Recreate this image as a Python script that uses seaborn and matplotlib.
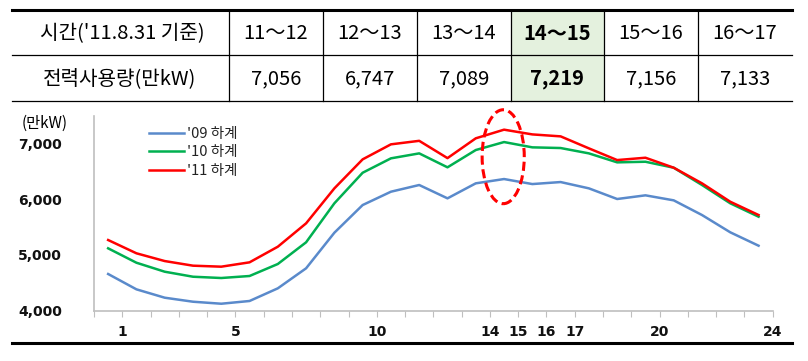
import numpy as np
import pandas as pd
import matplotlib
matplotlib.use('Agg')
import matplotlib.pyplot as plt
from matplotlib.patches import Ellipse, Rectangle
from matplotlib.lines import Line2D
import seaborn as sns

# Hourly power use (만kW)
hours = list(range(1, 25))
use_09 = [4658, 4383, 4233, 4161, 4125, 4174, 4401, 4760, 5398, 5894, 6133, 6253,
          6014, 6283, 6360, 6270, 6306, 6193, 6002, 6068, 5978, 5715, 5405, 5165]
use_10 = [5118, 4860, 4699, 4609, 4586, 4622, 4837, 5226, 5925, 6473, 6731, 6820,
          6570, 6880, 7023, 6928, 6916, 6820, 6659, 6670, 6563, 6253, 5925, 5685]
use_11 = [5267, 5029, 4890, 4807, 4789, 4867, 5147, 5566, 6193, 6713, 6982, 7045,
          6735, 7090, 7245, 7160, 7125, 6910, 6700, 6742, 6563, 6283, 5953, 5715]
series_names = ["'09 하계", "'10 하계", "'11 하계"]
series_colors = ['#5A8ACB', '#00B050', '#FF0000']
x_labels = [1, 5, 10, 14, 15, 16, 17, 20, 24]
y_ticks = [4000, 5000, 6000, 7000]

# Table above the chart
table_head = "시간('11.8.31 기준)"
table_row = "전력사용량(만kW)"
time_slots = ['11～12', '12～13', '13～14', '14～15', '15～16', '16～17']
slot_use = ['7,056', '6,747', '7,089', '7,219', '7,156', '7,133']
peak_slot = '14～15'

W, H = 808, 361
fig = plt.figure(figsize=(W / 100, H / 100), dpi=100)
plt.rcParams['font.family'] = ['Noto Sans CJK KR', 'DejaVu Sans']


def fx(px):
    return px / W


def fy(py):
    return 1 - py / H


# ---- table ----
col_edges = [11.7, 228.7, 322.7, 416.7, 510.7, 604, 698, 791.5]
row_top, row_mid, row_bot = 9.5, 55, 100.5
peak_i = time_slots.index(peak_slot)
fig.patches.append(Rectangle((fx(col_edges[peak_i + 1]), fy(row_bot)),
                             fx(col_edges[peak_i + 2] - col_edges[peak_i + 1]),
                             fy(row_top) - fy(row_bot), transform=fig.transFigure,
                             facecolor='#E4F1DE', edgecolor='none', zorder=0))
fig.add_artist(Line2D([fx(11.7), fx(791.5)], [fy(row_top)] * 2, color='black', lw=2.2))
fig.add_artist(Line2D([fx(11.7), fx(791.5)], [fy(row_mid)] * 2, color='black', lw=0.9))
fig.add_artist(Line2D([fx(11.7), fx(791.5)], [fy(row_bot)] * 2, color='black', lw=0.9))
for xe in col_edges[1:-1]:
    fig.add_artist(Line2D([fx(xe)] * 2, [fy(row_top), fy(row_bot)], color='black', lw=0.9))

ty1, ty2 = (row_top + row_mid) / 2 + 1, (row_mid + row_bot) / 2 + 1
fig.text(fx(122), fy(ty1), table_head, ha='center', va='center', fontsize=14.5)
fig.text(fx(120), fy(ty2), table_row, ha='center', va='center', fontsize=14.5)
for i, (slot, val) in enumerate(zip(time_slots, slot_use)):
    cx = (col_edges[i + 1] + col_edges[i + 2]) / 2
    wt = 'bold' if slot == peak_slot else 'normal'
    fig.text(fx(cx), fy(ty1), slot, ha='center', va='center', fontsize=14.5, fontweight=wt)
    fig.text(fx(cx), fy(ty2), val, ha='center', va='center', fontsize=14.5, fontweight=wt)

# bottom rule under chart
fig.add_artist(Line2D([fx(11.7), fx(791.5)], [fy(342.7)] * 2, color='black', lw=2.2))

# ---- line chart ----
ax = fig.add_axes([fx(94), fy(310.7), fx(772.7 - 94), fy(116) - fy(310.7)])
df = pd.DataFrame({
    'hour': hours * 3,
    'use': use_09 + use_10 + use_11,
    'year': sum([[n] * len(hours) for n in series_names], []),
})
df['pos'] = df['hour'] - 0.5
sns.lineplot(data=df, x='pos', y='use', hue='year', palette=series_colors,
             linewidth=1.8, ax=ax)

ax.set_xlim(0, 24)
ax.set_ylim(4000, 7490)
ax.set_xticks(range(0, 25))
ax.set_xticklabels([str(t) if t in x_labels else '' for t in range(0, 25)],
                   fontweight='bold', fontsize=10, family='DejaVu Sans')
ax.set_yticks(y_ticks)
ax.set_yticklabels([f'{v:,}' for v in y_ticks], fontweight='bold', fontsize=10,
                   family='DejaVu Sans')
ax.tick_params(axis='x', direction='out', length=4, color='#BFBFBF', pad=6,
               labelcolor='#111111')
ax.tick_params(axis='y', length=0, pad=23, labelcolor='#111111')
ax.set_xlabel('')
ax.set_ylabel('')
for s in ['top', 'right']:
    ax.spines[s].set_visible(False)
for s in ['left', 'bottom']:
    ax.spines[s].set_color('#BFBFBF')
    ax.spines[s].set_linewidth(1.2)
ax.patch.set_alpha(0)

leg = ax.legend(loc='upper left', bbox_to_anchor=(fx(136), fy(114)),
                bbox_transform=fig.transFigure, frameon=False, fontsize=10.5,
                handlelength=2.4, handletextpad=0.2, labelspacing=0.3)
for t in leg.get_texts():
    t.set_color('#222222')

fig.text(fx(22), fy(123), '(만kW)', ha='left', va='center', fontsize=11)

# dashed ellipse around the 14~15 peak
ax.add_patch(Ellipse((14.47, 6760), 1.49, 1684, fill=False, edgecolor='#FF0000',
                     linestyle=(0, (3, 1.5)), linewidth=2.2, clip_on=False, zorder=5))

fig.savefig('out.png', dpi=100)
